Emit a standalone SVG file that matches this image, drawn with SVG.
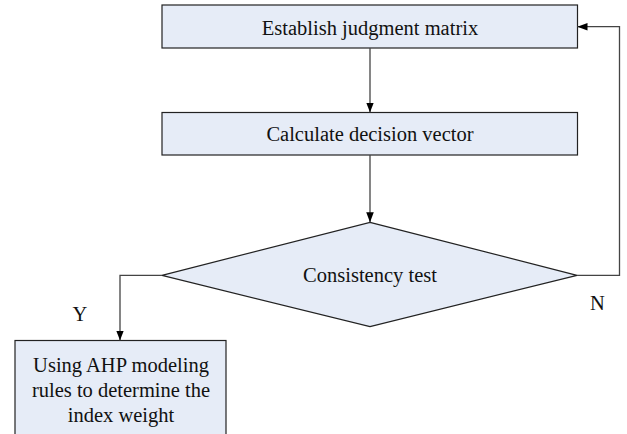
<svg xmlns="http://www.w3.org/2000/svg" width="627" height="434" viewBox="0 0 627 434">
<style>
.box{fill:#e6ecf7;stroke:#222;stroke-width:1.2}
text{font-family:'Liberation Serif','Times New Roman',serif;font-size:20.5px;fill:#111;text-anchor:middle}
.c{fill:none;stroke:#444;stroke-width:1.3;marker-end:url(#ah)}
</style>
<defs>
<marker id="ah" viewBox="0 0 10 10" refX="10" refY="5" markerWidth="10" markerHeight="10" markerUnits="userSpaceOnUse" orient="auto">
<path d="M0,1.2 L10,5 L0,8.8 z" fill="#000"/>
</marker>
</defs>
<rect width="627" height="434" fill="#fff"/>
<g id="n1"><rect class="box" x="162" y="5" width="415.5" height="43"/><text x="370" y="34.5">Establish judgment matrix</text></g>
<g id="n2"><rect class="box" x="162" y="112.5" width="415.5" height="42.5"/><text x="370" y="141">Calculate decision vector</text></g>
<g id="n3"><polygon class="box" points="370,222.3 577,275.3 370,326.7 162,275.3"/><text x="370" y="282">Consistency test</text></g>
<g id="n4"><rect class="box" x="15" y="340.5" width="211" height="100"/><text x="121" y="372">Using AHP modeling</text><text x="121" y="397">rules to determine the</text><text x="121" y="421.5">index weight</text></g>
<g id="connectors">
<path class="c" d="M370,48 V112.5"/>
<path class="c" d="M370,155 V222.3"/>
<path class="c" d="M162,275.3 H120 V340.5"/>
<path class="c" d="M577,275.3 H619.5 V26.7 H577.5"/>
<text x="80" y="321">Y</text>
<text x="597.5" y="310">N</text>
</g>
</svg>
